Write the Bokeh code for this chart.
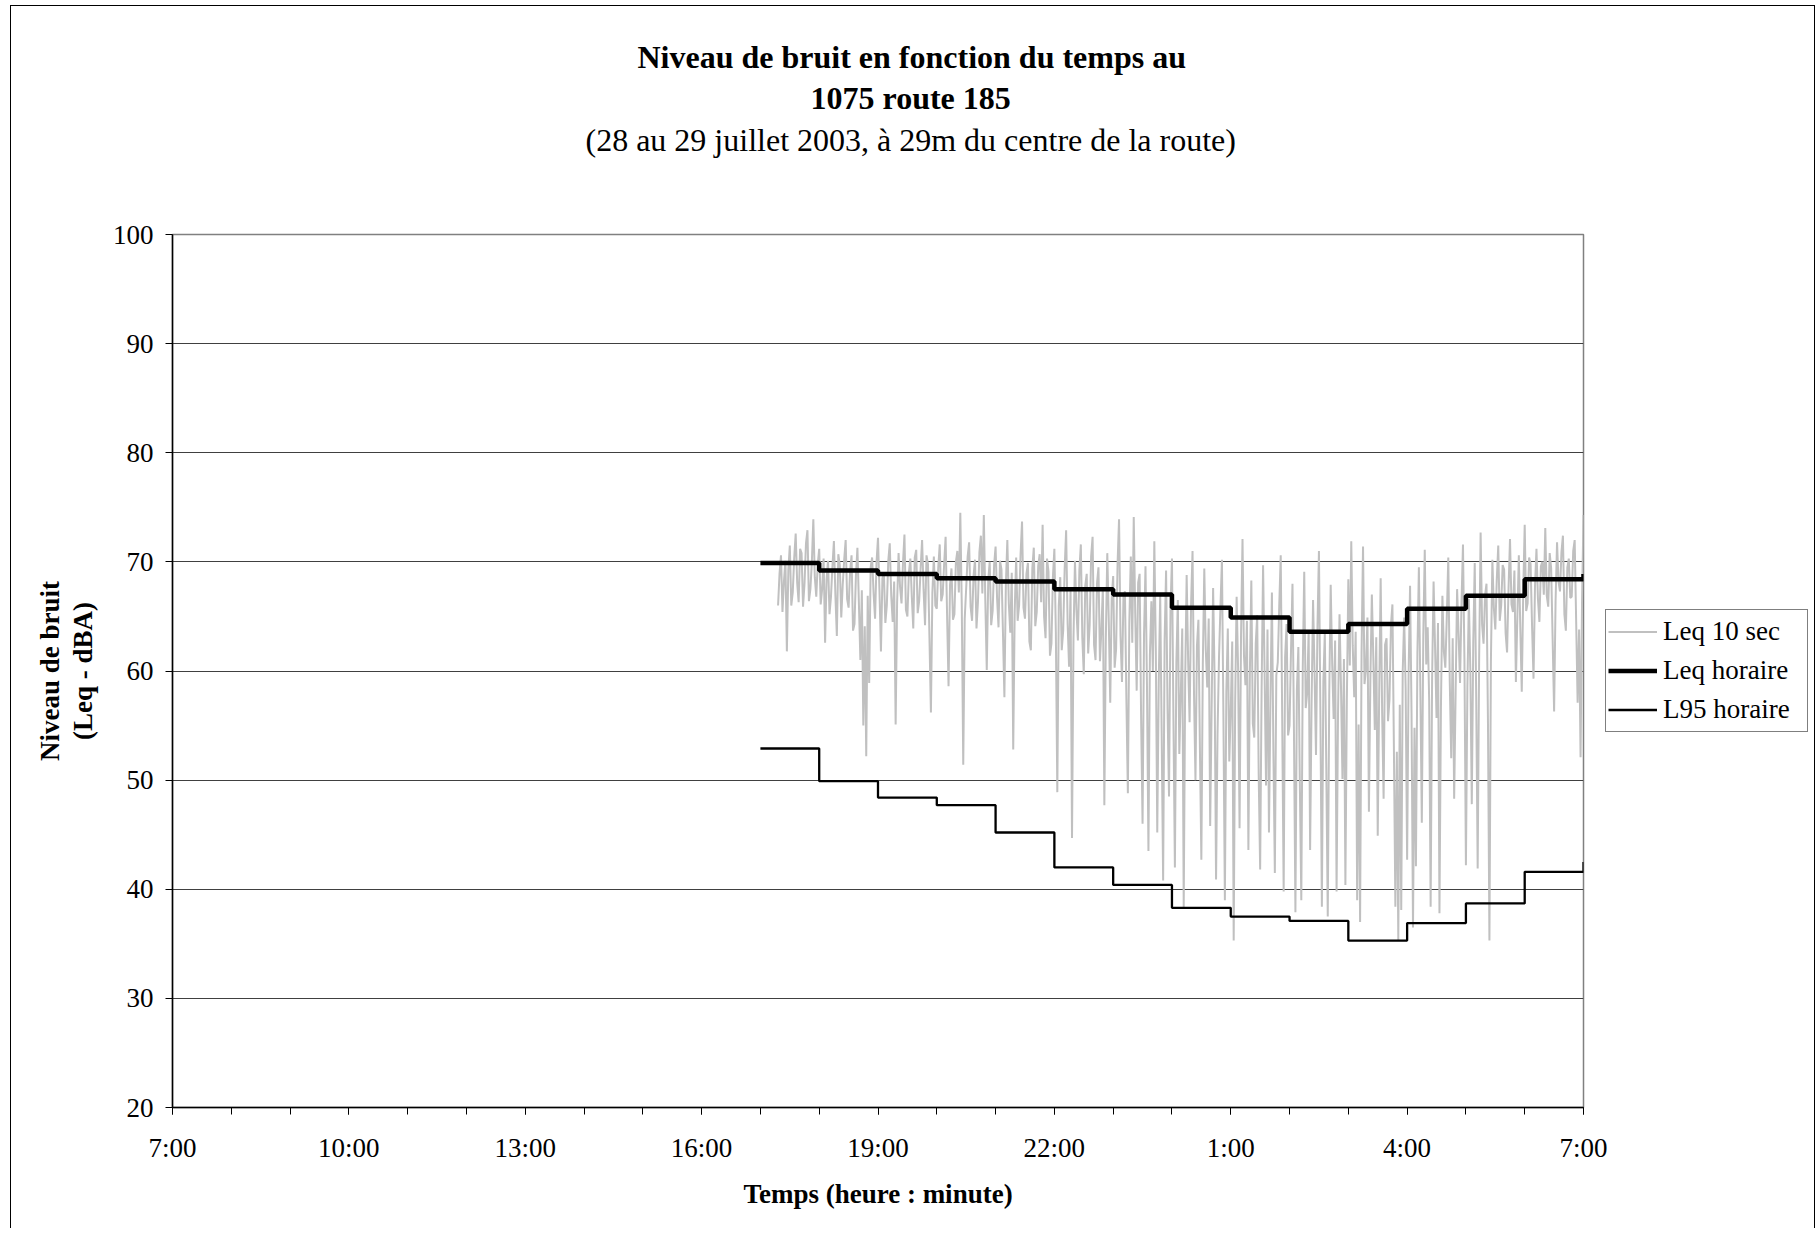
from bokeh.plotting import figure
from bokeh.models import Legend, LegendItem, FixedTicker, Range1d, Title
from bokeh.embed import file_html
from bokeh.resources import INLINE

FONT = "Liberation Serif"

# ---- axis ticks (hours counted from 7:00 on day 1, 31 = 7:00 next day)
hour_ticks = [7, 10, 13, 16, 19, 22, 25, 28, 31]
hour_tick_labels = ["7:00", "10:00", "13:00", "16:00", "19:00", "22:00", "1:00", "4:00", "7:00"]
hour_minor = list(range(7, 32))
db_ticks = [20, 30, 40, 50, 60, 70, 80, 90, 100]

# ---- hourly series (value for each hour from 17:00, last = 7:00 end point)
hourly_t = [17, 18, 19, 20, 21, 22, 23, 24, 25, 26, 27, 28, 29, 30, 31]
leq_horaire = [69.9, 69.2, 68.9, 68.5, 68.2, 67.5, 67.0, 65.8, 64.9, 63.6, 64.3, 65.7, 66.9, 68.4, 68.9]
l95_horaire = [52.9, 49.9, 48.4, 47.7, 45.2, 42.0, 40.4, 38.3, 37.5, 37.1, 35.3, 36.9, 38.7, 41.6, 42.5]

# ---- Leq 10 sec (read every 1.5 minutes from 17:18)
leq10_start = 17.3
leq10_step = 0.025
leq10_h17 = [66.0, 68.9, 70.6, 65.4, 68.2, 70.1, 61.8, 69.3, 71.5, 66.0, 67.2, 70.4, 72.6, 68.1,
             66.3, 71.2, 70.8, 65.9, 68.0, 71.7, 72.9, 66.4, 67.5, 70.0, 73.9, 68.6, 66.8, 69.8]
leq10_h18 = [71.2, 66.1, 67.5, 70.3, 62.6, 68.4, 70.1, 65.2, 66.8, 69.6, 71.9, 67.0, 63.2, 70.7,
             69.7, 64.9, 67.9, 70.2, 72.0, 66.6, 65.8, 69.1, 70.6, 63.7, 64.3, 68.8, 71.3, 66.2,
             61.0, 67.4, 55.0, 64.1, 52.2, 66.9, 58.9, 69.5, 70.4, 67.1, 64.8, 70.0]
leq10_h19 = [72.2, 67.3, 61.8, 68.5, 69.0, 64.4, 66.0, 70.1, 71.7, 66.9, 64.5, 68.2, 55.1, 66.3,
             70.8, 67.7, 66.2, 69.9, 72.5, 65.6, 65.0, 69.0, 70.3, 66.8, 63.9, 70.4, 71.1, 65.3,
             66.4, 69.4, 72.0, 67.5, 64.2, 70.6, 69.8, 63.1, 56.2, 67.2, 70.5, 66.0]
leq10_h20 = [65.7, 69.5, 71.6, 66.4, 67.0, 69.8, 72.3, 65.1, 58.6, 67.9, 69.4, 64.7, 65.2, 70.0,
             71.0, 67.2, 74.5, 66.0, 51.4, 64.8, 67.6, 70.5, 71.8, 65.9, 64.6, 68.7, 70.2, 63.9,
             66.3, 70.9, 72.4, 67.1, 74.3, 66.5, 60.1, 68.3, 70.0, 64.2, 65.5, 69.7]
leq10_h21 = [71.4, 66.7, 64.0, 70.1, 69.3, 63.6, 57.6, 68.0, 72.0, 66.2, 63.5, 69.0, 52.8, 65.4,
             70.4, 64.6, 66.0, 70.7, 73.7, 65.8, 64.8, 68.9, 69.9, 62.7, 61.9, 69.4, 71.3, 64.1,
             65.4, 69.6, 70.7, 66.3, 73.4, 65.0, 63.0, 70.3, 69.1, 61.4, 62.5, 68.6]
leq10_h22 = [71.2, 63.5, 48.9, 66.0, 68.6, 61.9, 63.7, 69.4, 72.9, 64.4, 60.4, 67.5, 44.7, 63.0,
             70.1, 65.6, 62.8, 69.2, 71.6, 63.1, 59.7, 67.8, 68.9, 61.6, 64.2, 70.5, 72.3, 62.4,
             61.0, 68.0, 69.5, 60.9, 63.8, 67.7, 47.7, 62.9, 70.8, 64.7, 57.1, 66.6]
leq10_h23 = [68.7, 60.3, 62.0, 69.9, 73.9, 63.2, 59.0, 66.8, 67.3, 57.4, 48.8, 64.5, 70.5, 62.6,
             74.1, 65.3, 58.2, 68.1, 68.9, 55.8, 46.0, 63.4, 69.6, 58.7, 43.5, 61.5, 66.4, 60.0,
             71.9, 62.1, 45.2, 58.9, 67.0, 54.3, 40.8, 62.8, 69.2, 56.5, 48.5, 65.7]
leq10_h00 = [70.3, 55.6, 42.0, 60.8, 66.5, 52.4, 57.8, 63.9, 38.3, 59.2, 68.8, 61.0, 55.3, 66.1,
             71.0, 57.9, 50.0, 62.3, 64.7, 53.1, 42.7, 60.6, 69.4, 62.0, 58.5, 64.8, 45.8, 56.7,
             67.6, 59.5, 40.9, 54.2, 61.2, 65.9, 70.2, 56.0, 39.0, 58.1, 63.9, 51.7]
leq10_h01 = [56.4, 62.7, 35.3, 57.0, 66.8, 60.2, 45.6, 63.3, 72.1, 61.4, 58.7, 64.6, 43.6, 59.8,
             68.3, 55.2, 53.9, 62.5, 65.1, 50.6, 41.8, 58.4, 69.7, 60.1, 49.5, 63.8, 45.2, 57.3,
             67.2, 52.9, 41.5, 59.6, 60.8, 66.0, 70.6, 55.7, 39.8, 61.3, 64.3, 54.1]
leq10_h02 = [55.0, 61.9, 68.0, 54.5, 37.9, 58.3, 62.2, 49.7, 39.0, 60.4, 69.1, 56.6, 58.0, 63.7,
             43.6, 57.1, 66.5, 59.9, 52.3, 64.0, 71.0, 55.9, 38.4, 59.0, 63.5, 51.2, 37.5, 57.7,
             67.9, 60.7, 55.6, 62.8, 39.8, 56.3, 65.2, 58.6, 50.1, 61.1, 40.4, 57.5]
leq10_h03 = [68.4, 60.5, 71.9, 62.3, 57.6, 63.6, 39.0, 55.1, 37.0, 61.7, 71.4, 58.8, 60.2, 64.9,
             47.1, 59.3, 67.0, 61.2, 54.6, 63.1, 44.9, 57.9, 68.5, 56.2, 48.3, 62.4, 63.0, 55.4,
             57.4, 64.2, 66.1, 53.0, 38.4, 52.6, 35.3, 56.9, 38.1, 60.0, 64.9, 58.4]
leq10_h04 = [42.7, 59.7, 67.8, 56.1, 36.5, 54.8, 42.1, 61.6, 69.5, 58.2, 46.1, 63.2, 71.1, 60.6,
             64.0, 57.3, 38.4, 59.4, 68.2, 62.2, 55.7, 64.4, 37.8, 56.6, 66.9, 61.8, 60.3, 65.0,
             70.4, 59.1, 52.0, 63.0, 48.3, 58.0, 67.5, 63.4, 58.9, 66.2, 71.6, 60.9]
leq10_h05 = [42.2, 58.5, 66.6, 60.1, 47.8, 62.7, 69.9, 57.6, 41.9, 61.2, 72.7, 64.3, 62.5, 66.9,
             68.0, 55.3, 35.3, 60.9, 70.2, 65.8, 63.8, 68.4, 71.5, 64.6, 66.0, 69.7, 69.3, 63.5,
             61.7, 67.6, 72.1, 66.1, 65.4, 69.2, 59.0, 65.0, 70.6, 63.9, 58.1, 67.3]
leq10_h06 = [73.4, 65.5, 66.2, 70.4, 69.8, 64.1, 59.3, 67.8, 71.2, 66.6, 64.5, 69.6, 70.0, 67.0,
             73.1, 66.9, 65.9, 70.8, 69.4, 62.9, 56.3, 66.4, 71.8, 68.2, 67.3, 70.9, 72.4, 65.2,
             63.7, 69.5, 70.3, 66.7, 66.8, 71.0, 72.0, 64.6, 57.1, 63.8, 52.1, 66.3]
leq10_h07 = [74.3]

leq10 = (leq10_h17 + leq10_h18 + leq10_h19 + leq10_h20 + leq10_h21 + leq10_h22 + leq10_h23
         + leq10_h00 + leq10_h01 + leq10_h02 + leq10_h03 + leq10_h04 + leq10_h05 + leq10_h06 + leq10_h07)
leq10_t = [leq10_start + i * leq10_step for i in range(len(leq10))]

title_lines = ["Niveau de bruit en fonction du temps au", "1075 route 185"]
subtitle = "(28 au 29 juillet 2003, à 29m du centre de la route)"
x_title = "Temps (heure : minute)"
y_title_lines = ["Niveau de bruit", "(Leq - dBA)"]
legend_labels = ["Leq 10 sec", "Leq horaire", "L95 horaire"]

border_css = ("linear-gradient(#000,#000) 10px 5px / 1px 100% no-repeat, "
              "linear-gradient(#000,#000) 10px 5px / 1805px 1px no-repeat, "
              "linear-gradient(#000,#000) 1814px 5px / 1px 100% no-repeat, #fff")

p = figure(frame_width=1411, frame_height=873, x_range=Range1d(7, 31), y_range=Range1d(20, 100),
           output_backend="svg", toolbar_location=None, title=None,
           min_border_left=172, min_border_right=235, min_border_top=234, min_border_bottom=121,
           background_fill_color="white", border_fill_color=None)
p.styles = {"background": border_css}
p.outline_line_color = "#808080"
p.outline_line_width = 1.5

r10 = p.line(leq10_t, leq10, line_color="#C0C0C0", line_width=2.0)
rleq = p.step(hourly_t, leq_horaire, mode="after", line_color="black", line_width=4.5)
r95 = p.step(hourly_t, l95_horaire, mode="after", line_color="black", line_width=2.3)

# axes
p.xaxis.ticker = FixedTicker(ticks=hour_ticks, minor_ticks=hour_minor)
p.xaxis.major_label_overrides = {t: l for t, l in zip(hour_ticks, hour_tick_labels)}
p.yaxis.ticker = FixedTicker(ticks=db_ticks, minor_ticks=[])
for ax in (p.xaxis[0], p.yaxis[0]):
    ax.axis_line_color = "black"
    ax.axis_line_width = 1.5
    ax.major_tick_line_color = "black"
    ax.minor_tick_line_color = "black"
    ax.major_tick_in = 0
    ax.major_tick_out = 7
    ax.minor_tick_in = 0
    ax.minor_tick_out = 7
    ax.major_label_text_font = FONT
    ax.major_label_text_font_size = "27px"
    ax.major_label_text_color = "black"
    ax.axis_label_text_font = FONT
    ax.axis_label_text_font_size = "27px"
    ax.axis_label_text_font_style = "bold"
    ax.axis_label_text_color = "black"
p.xaxis.major_label_standoff = 18
p.yaxis.major_label_standoff = 12
p.xaxis.axis_label = x_title
p.xaxis.axis_label_standoff = 13
p.yaxis.axis_label = y_title_lines[1]
p.yaxis.axis_label_standoff = 12

p.xgrid.visible = False
p.ygrid.grid_line_color = "#404040"
p.ygrid.grid_line_width = 1

# blank spacer between the frame and the title block
p.add_layout(Title(text="\u00a0", standoff=34, text_font=FONT, text_font_size="32px",
                   text_color="white"), "above")

# titles (added from the frame outward)
for txt, style, st, off in [(subtitle, "normal", 9, 413), (title_lines[1], "bold", 0, 638),
                            (title_lines[0], "bold", 5, 465)]:
    p.add_layout(Title(text=txt, align="left", offset=off, standoff=st, text_font=FONT,
                       text_font_size="32px", text_font_style=style, text_color="black"), "above")

p.add_layout(Title(text=y_title_lines[0], align="center", standoff=0, text_font=FONT,
                   text_font_size="27px", text_font_style="bold", text_color="black"), "left")

legend = Legend(items=[LegendItem(label=legend_labels[0], renderers=[r10]),
                       LegendItem(label=legend_labels[1], renderers=[rleq]),
                       LegendItem(label=legend_labels[2], renderers=[r95])],
                location=(22, 375), padding=2, spacing=0, margin=0,
                glyph_width=49, glyph_height=39, label_height=39, label_width=142, label_standoff=6,
                label_text_font=FONT, label_text_font_size="27px", label_text_color="black",
                border_line_color="black", border_line_width=1, background_fill_color="white",
                background_fill_alpha=1)
p.add_layout(legend, "right")

open("out.html", "w").write(file_html(p, INLINE))
